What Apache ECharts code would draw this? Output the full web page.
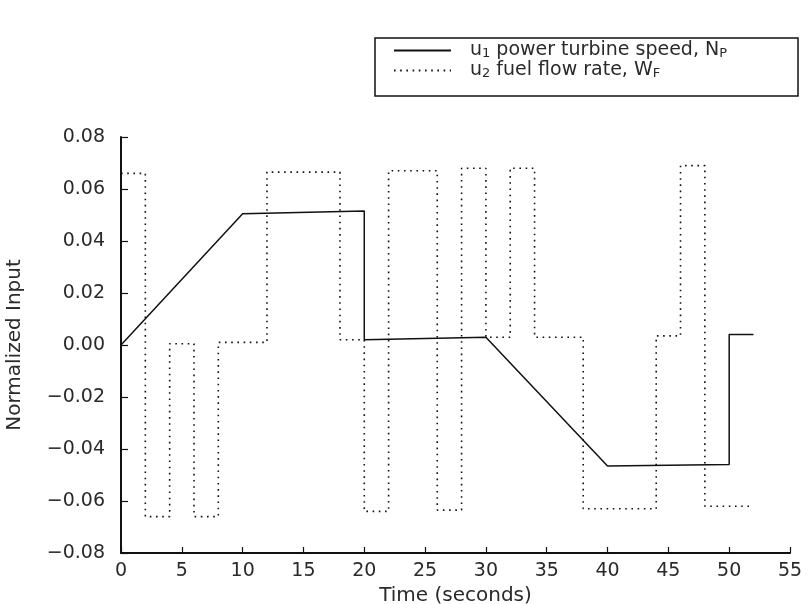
<!DOCTYPE html>
<html>
<head>
<meta charset="utf-8">
<script src="https://cdn.jsdelivr.net/npm/echarts@6/dist/echarts.min.js"></script>
<style>
  html, body { margin: 0; padding: 0; background: #fff; }
  #chart { width: 812px; height: 604px; }
</style>
</head>
<body>
<div id="chart"></div>
<script>
// ---- data ----
const seriesNames = ['u1 power turbine speed, NP', 'u2 fuel flow rate, WF'];

// u1: power turbine speed (piecewise linear breakpoints)
const u1Times  = [0, 10, 20, 20, 30, 40, 50, 50, 52];
const u1Values = [0, 0.0505, 0.0515, 0.002, 0.003, -0.0465, -0.046, 0.004, 0.004];

// u2: fuel flow rate (piecewise constant: switch times and levels between them)
const u2Switch = [0, 2, 4, 6, 8, 12, 18, 20, 22, 26, 28, 30, 32, 34, 38, 44, 46, 48, 52];
const u2Levels = [0.066, -0.066, 0.0005, -0.066, 0.001, 0.0665, 0.002, -0.064, 0.067,
                  -0.0635, 0.068, 0.003, 0.068, 0.003, -0.063, 0.0035, 0.069, -0.062];

const xMin = 0, xMax = 55, xStep = 5;
const yMin = -0.08, yMax = 0.08, yStep = 0.02;

// ---- build series data ----
const u1Data = u1Times.map((t, i) => [t, u1Values[i]]);
const u2Data = [];
u2Levels.forEach((lv, i) => {
  u2Data.push([u2Switch[i], lv]);
  u2Data.push([u2Switch[i + 1], lv]);
});

const FONT = 'DejaVu Sans';
const TXT = '#2a2a2a';

const chart = echarts.init(document.getElementById('chart'), null, { renderer: 'canvas' });

const legendRich = {
  f: { fontFamily: FONT, fontSize: 19, color: TXT, lineHeight: 19, padding: [0, 0, 0, 14] },
  b: { fontFamily: FONT, fontSize: 19, color: TXT, lineHeight: 19 },
  s: { fontFamily: FONT, fontSize: 13, color: TXT, lineHeight: 13, verticalAlign: 'bottom' }
};

chart.setOption({
  animation: false,
  backgroundColor: '#fff',
  grid: { left: 121, right: 22, top: 137, bottom: 51, containLabel: false, outerBoundsMode: 'none' },
  graphic: [{
    type: 'rect',
    shape: { x: 375, y: 38, width: 423, height: 58 },
    style: { fill: 'none', stroke: '#111', lineWidth: 1.5 },
    silent: true
  }],
  legend: {
    orient: 'vertical',
    left: 375,
    top: 38,
    padding: [3, 0, 0, 18],
    itemWidth: 57,
    itemHeight: 14,
    itemGap: 1,
    data: seriesNames,
    itemStyle: { opacity: 0 },
    formatter: function (name) {
      if (name === seriesNames[0]) {
        return '{f|u}{s|1}{b| power turbine speed, N}{s|P}';
      }
      return '{f|u}{s|2}{b| fuel flow rate, W}{s|F}';
    },
    textStyle: { rich: legendRich, fontFamily: FONT, fontSize: 19, color: TXT }
  },
  xAxis: {
    type: 'value',
    min: xMin, max: xMax, interval: xStep,
    name: 'Time (seconds)',
    nameLocation: 'middle',
    nameGap: 16,
    nameTextStyle: { fontFamily: FONT, fontSize: 20, color: TXT },
    axisLine: { show: true, onZero: false, lineStyle: { color: '#111', width: 2 } },
    axisTick: { show: true, inside: true, length: 6, lineStyle: { color: '#111', width: 1.2 } },
    axisLabel: { fontFamily: FONT, fontSize: 19, color: TXT, margin: 9 },
    splitLine: { show: false }
  },
  yAxis: {
    type: 'value',
    min: yMin, max: yMax, interval: yStep,
    name: 'Normalized Input',
    nameLocation: 'middle',
    nameGap: 96,
    nameRotate: 90,
    nameTextStyle: { fontFamily: FONT, fontSize: 20, color: TXT },
    axisLine: { show: true, onZero: false, lineStyle: { color: '#111', width: 2 } },
    axisTick: { show: true, inside: true, length: 7, lineStyle: { color: '#111', width: 1.2 } },
    axisLabel: {
      fontFamily: FONT, fontSize: 19, color: TXT, margin: 16,
      formatter: v => v.toFixed(2).replace('-', '\u2212')
    },
    splitLine: { show: false }
  },
  series: [
    {
      name: seriesNames[0],
      type: 'line',
      data: u1Data,
      symbol: 'none',
      lineStyle: { color: '#111', width: 1.5, type: 'solid' },
      itemStyle: { color: '#111' },
      z: 3
    },
    {
      name: seriesNames[1],
      type: 'line',
      data: u2Data,
      symbol: 'none',
      lineStyle: { color: '#111', width: 1.6, type: [1.6, 4.6] },
      itemStyle: { color: '#111' },
      z: 2
    }
  ]
});
</script>
</body>
</html>
